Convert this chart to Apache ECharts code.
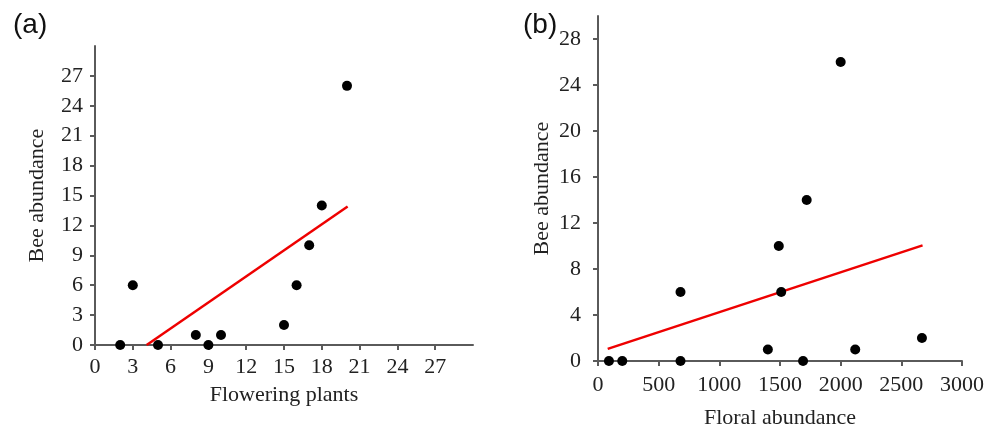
<!DOCTYPE html>
<html lang="en">
<head>
    <meta charset="UTF-8">
    <title>bee abundance</title>
    <script src="https://cdn.jsdelivr.net/npm/echarts@6/dist/echarts.min.js"></script>
</head>
<body style="margin:0;background:#fff;">
    <div id="chart" style="width:985px;height:430px;"></div>
</body>
<script>
    // (a) flowering plants vs bee abundance
    const plantsX = [2, 3, 5, 8, 9, 10, 15, 16, 17, 18, 20];
    const plantsY = [0, 6, 0, 1, 0, 1, 2, 6, 10, 14, 26];
    const plantsFit = [[4.1, 0], [20.05, 13.9]];
    const ticksA = [0, 3, 6, 9, 12, 15, 18, 21, 24, 27];

    // (b) floral abundance vs bee abundance
    const floralX = [90, 200, 680, 680, 1400, 1490, 1510, 1690, 1720, 2000, 2120, 2670];
    const floralY = [0, 0, 6, 0, 1, 10, 6, 0, 14, 26, 1, 2];
    const floralFit = [[80, 1.05], [2675, 10.05]];
    const ticksBx = [0, 500, 1000, 1500, 2000, 2500, 3000];
    const ticksBy = [0, 4, 8, 12, 16, 20, 24, 28];

    var chart = echarts.init(document.getElementById('chart'));

    var serif = 'Liberation Serif';
    var axisColor = '#5a5a5a';

    function axis(extra) {
        var o = {
            type: 'value',
            nameLocation: 'middle',
            nameTextStyle: { fontFamily: serif, fontSize: 22, color: '#222' },
            splitLine: { show: false },
            axisLine: { show: true, lineStyle: { color: axisColor, width: 2 } },
            axisTick: { show: true, length: 5, lineStyle: { color: axisColor, width: 2 } },
            axisLabel: { fontFamily: serif, fontSize: 22, color: '#222', formatter: v => String(v) },
        };
        for (var k in extra) {
            if (typeof extra[k] === 'object' && o[k] && !Array.isArray(extra[k])) {
                o[k] = Object.assign({}, o[k], extra[k]);
            } else {
                o[k] = extra[k];
            }
        }
        return o;
    }

    var options = {
        backgroundColor: '#fff',
        animation: false,
        title: [
            { text: '(a)', left: 8, top: 6, textStyle: { fontFamily: 'Liberation Sans', fontSize: 28, fontWeight: 'normal', color: '#111' } },
            { text: '(b)', left: 518, top: 6, textStyle: { fontFamily: 'Liberation Sans', fontSize: 28, fontWeight: 'normal', color: '#111' } },
        ],
        grid: [
            { left: 95, top: 46, width: 378, height: 299, containLabel: false, outerBoundsMode: 'none' },
            { left: 598, top: 16, width: 364, height: 345, containLabel: false, outerBoundsMode: 'none' },
        ],
        xAxis: [
            axis({
                gridIndex: 0, min: 0, max: 30, name: 'Flowering plants', nameGap: 39,
                axisTick: { customValues: ticksA },
                axisLabel: { customValues: ticksA, margin: 11 },
            }),
            axis({
                gridIndex: 1, min: 0, max: 3000, name: 'Floral abundance', nameGap: 46,
                axisTick: { customValues: ticksBx },
                axisLabel: { customValues: ticksBx, margin: 13 },
            }),
        ],
        yAxis: [
            axis({
                gridIndex: 0, min: 0, max: 30, name: 'Bee abundance', nameGap: 47,
                axisTick: { customValues: ticksA },
                axisLabel: { customValues: ticksA, margin: 12 },
            }),
            axis({
                gridIndex: 1, min: 0, max: 30, name: 'Bee abundance', nameGap: 45,
                axisTick: { customValues: ticksBy },
                axisLabel: { customValues: ticksBy, margin: 17 },
            }),
        ],
        series: [{
            type: 'line',
            xAxisIndex: 0,
            yAxisIndex: 0,
            data: plantsFit,
            symbol: 'none',
            lineStyle: { color: '#ee0000', width: 2.5 },
            z: 2,
        }, {
            type: 'scatter',
            xAxisIndex: 0,
            yAxisIndex: 0,
            data: plantsX.map((x, i) => [x, plantsY[i]]),
            symbolSize: 10,
            itemStyle: { color: '#000', opacity: 1 },
            z: 3,
        }, {
            type: 'line',
            xAxisIndex: 1,
            yAxisIndex: 1,
            data: floralFit,
            symbol: 'none',
            lineStyle: { color: '#ee0000', width: 2.5 },
            z: 2,
        }, {
            type: 'scatter',
            xAxisIndex: 1,
            yAxisIndex: 1,
            data: floralX.map((x, i) => [x, floralY[i]]),
            symbolSize: 10,
            itemStyle: { color: '#000', opacity: 1 },
            z: 3,
        }],
    };

    chart.setOption(options);
</script>
</html>
